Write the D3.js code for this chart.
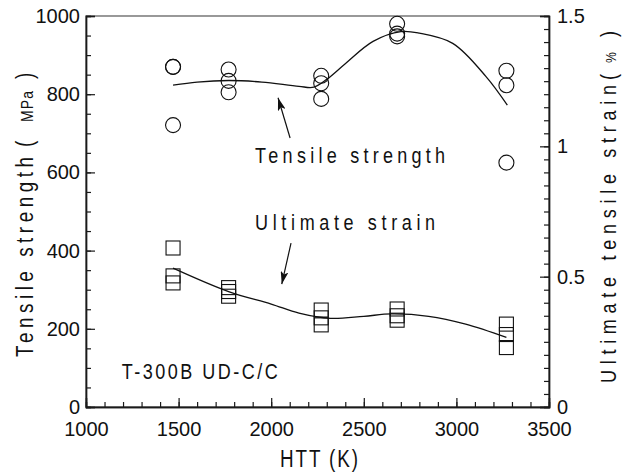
<!DOCTYPE html>
<html>
<head>
<meta charset="utf-8">
<script src="https://cdn.jsdelivr.net/npm/d3@7"></script>
<style>
  body { margin: 0; background: #fff; }
  svg text { font-family: "Liberation Sans", Arial, sans-serif; fill: #111; }
</style>
</head>
<body>
<div id="chart"></div>
<script>
// measured points, HTT in K
var httStrength = [1470, 1470, 1470, 1770, 1770, 1770, 2270, 2270, 2270, 2680, 2680, 2680, 3270, 3270, 3270];
var strength = [870, 870, 721, 863, 834, 805, 847, 828, 788, 980, 955, 948, 860, 823, 625];

var httStrain = [1470, 1470, 1470, 1770, 1770, 1770, 2270, 2270, 2270, 2680, 2680, 2680, 3270, 3270, 3270];
var strain = [0.61, 0.503, 0.476, 0.458, 0.443, 0.425, 0.372, 0.342, 0.315, 0.376, 0.35, 0.333, 0.318, 0.278, 0.228];

// fitted curves
var fitStrengthX = [1470, 1600, 1770, 1950, 2150, 2230, 2300, 2400, 2550, 2700, 2800, 2980, 3160, 3275];
var fitStrengthY = [823, 831, 835, 831, 820, 818, 838, 878, 935, 960, 956, 930, 845, 772];
var fitStrainX = [1470, 1770, 2000, 2150, 2320, 2500, 2650, 2850, 3050, 3270];
var fitStrainY = [0.533, 0.443, 0.395, 0.36, 0.34, 0.348, 0.357, 0.348, 0.318, 0.267];

var xTicks = [1000, 1500, 2000, 2500, 3000, 3500];
var yLeftTicks = [0, 200, 400, 600, 800, 1000];
var yRightTicks = [0, 0.5, 1, 1.5];
var yRightLabels = ["0", "0.5", "1", "1.5"];

var W = 634, H = 472;
var svg = d3.select("#chart").append("svg")
    .attr("width", W)
    .attr("height", H);

var x = d3.scaleLinear().domain([1000, 3500]).range([86, 549]);
var yL = d3.scaleLinear().domain([0, 1000]).range([407, 16]);
var yR = d3.scaleLinear().domain([0, 1.5]).range([407, 16]);

var ink = "#1a1a1a";

// frame
svg.append("rect")
    .attr("x", x(1000)).attr("y", yL(1000))
    .attr("width", x(3500) - x(1000)).attr("height", yL(0) - yL(1000))
    .attr("fill", "none").attr("stroke", "#555").attr("stroke-width", 1.2);

function styleAxis(g) {
  g.select(".domain").attr("stroke", ink).attr("stroke-width", 1.4);
  g.selectAll(".tick line").attr("stroke", ink).attr("stroke-width", 1.2);
  g.selectAll("text").attr("font-size", 20).attr("fill", "#111")
    .attr("font-family", "Liberation Sans, Arial, sans-serif");
}

// minor ticks
svg.append("g").attr("transform", "translate(0," + yL(0) + ")")
  .call(d3.axisBottom(x).tickValues(d3.range(1000, 3501, 100)).tickSize(-5).tickFormat(""))
  .call(styleAxis);
svg.append("g").attr("transform", "translate(" + x(1000) + ",0)")
  .call(d3.axisLeft(yL).tickValues(d3.range(0, 1001, 50)).tickSize(-5).tickFormat(""))
  .call(styleAxis);
svg.append("g").attr("transform", "translate(" + x(3500) + ",0)")
  .call(d3.axisRight(yR).tickValues(d3.range(0, 31).map(function(d) { return d * 0.05; })).tickSize(-5).tickFormat(""))
  .call(styleAxis);

// major ticks + labels
svg.append("g").attr("transform", "translate(0," + yL(0) + ")")
  .call(d3.axisBottom(x).tickValues(xTicks).tickSize(-9).tickPadding(15).tickFormat(d3.format("d")))
  .call(styleAxis);
svg.append("g").attr("transform", "translate(" + x(1000) + ",0)")
  .call(d3.axisLeft(yL).tickValues(yLeftTicks).tickSize(-9).tickPadding(6).tickFormat(d3.format("d")))
  .call(styleAxis);
svg.append("g").attr("transform", "translate(" + x(3500) + ",0)")
  .call(d3.axisRight(yR).tickValues(yRightTicks).tickSize(-9).tickPadding(8)
    .tickFormat(function(d, i) { return yRightLabels[i]; }))
  .call(styleAxis);

// condensed, widely spaced lettering like the original plot
function spaced(px, py, rot, size, len, str) {
  var g = svg.append("g")
      .attr("transform", "translate(" + px + "," + py + ") rotate(" + rot + ") scale(0.82,1)");
  var t = g.append("text")
      .attr("font-size", size)
      .text(str);
  if (len) t.attr("textLength", len / 0.82).attr("lengthAdjust", "spacing");
  return t;
}

// axis titles
spaced(280, 467, 0, 23, 78, "HTT  (K)");

spaced(33, 357, -90, 23, 200, "Tensile strength");
spaced(33, 147, -90, 23, null, "(");
spaced(33, 122, -90, 17, null, "MPa").attr("letter-spacing", 1.5);
spaced(33, 79, -90, 23, null, ")");

spaced(616, 383, -90, 22, 298, "Ultimate tensile strain");
spaced(616, 80, -90, 22, null, "(");
spaced(616, 63, -90, 15, null, "%");
spaced(616, 37, -90, 22, null, ")");

// fitted curves
var lineL = d3.line().x(function(d) { return x(d[0]); }).y(function(d) { return yL(d[1]); })
    .curve(d3.curveCatmullRom.alpha(0.5));
var lineR = d3.line().x(function(d) { return x(d[0]); }).y(function(d) { return yR(d[1]); })
    .curve(d3.curveCatmullRom.alpha(0.5));

svg.append("path")
    .datum(d3.zip(fitStrengthX, fitStrengthY))
    .attr("d", lineL)
    .attr("fill", "none").attr("stroke", "#111").attr("stroke-width", 1.3);
svg.append("path")
    .datum(d3.zip(fitStrainX, fitStrainY))
    .attr("d", lineR)
    .attr("fill", "none").attr("stroke", "#111").attr("stroke-width", 1.3);

// data markers
svg.append("g").selectAll("circle")
  .data(d3.zip(httStrength, strength))
  .join("circle")
    .attr("cx", function(d) { return x(d[0]); })
    .attr("cy", function(d) { return yL(d[1]); })
    .attr("r", 7.5)
    .attr("fill", "none").attr("stroke", "#111").attr("stroke-width", 1.1);

var sq = 14;
svg.append("g").selectAll("rect")
  .data(d3.zip(httStrain, strain))
  .join("rect")
    .attr("x", function(d) { return x(d[0]) - sq / 2; })
    .attr("y", function(d) { return yR(d[1]) - sq / 2; })
    .attr("width", sq).attr("height", sq)
    .attr("fill", "none").attr("stroke", "#111").attr("stroke-width", 1.1);

// annotations
svg.append("defs").append("marker")
    .attr("id", "head")
    .attr("viewBox", "0 0 13 8")
    .attr("refX", 13).attr("refY", 4)
    .attr("markerWidth", 13).attr("markerHeight", 8)
    .attr("markerUnits", "userSpaceOnUse")
    .attr("orient", "auto")
  .append("path")
    .attr("d", "M0,0 L13,4 L0,8 L3,4 Z")
    .attr("fill", "#111");

function arrow(x0, y0, x1, y1) {
  svg.append("line")
      .attr("x1", x(x0)).attr("y1", yL(y0))
      .attr("x2", x(x1)).attr("y2", yL(y1))
      .attr("stroke", "#111").attr("stroke-width", 1.2)
      .attr("marker-end", "url(#head)");
}
arrow(2102, 688, 2037, 791);
arrow(2107, 419, 2057, 314);

spaced(x(1913), yL(625), 0, 22, 190, "Tensile strength");
spaced(x(1913), yL(453), 0, 22, 180, "Ultimate strain");
spaced(x(1193), yL(72), 0, 22, 156, "T-300B UD-C/C");
</script>
</body>
</html>
